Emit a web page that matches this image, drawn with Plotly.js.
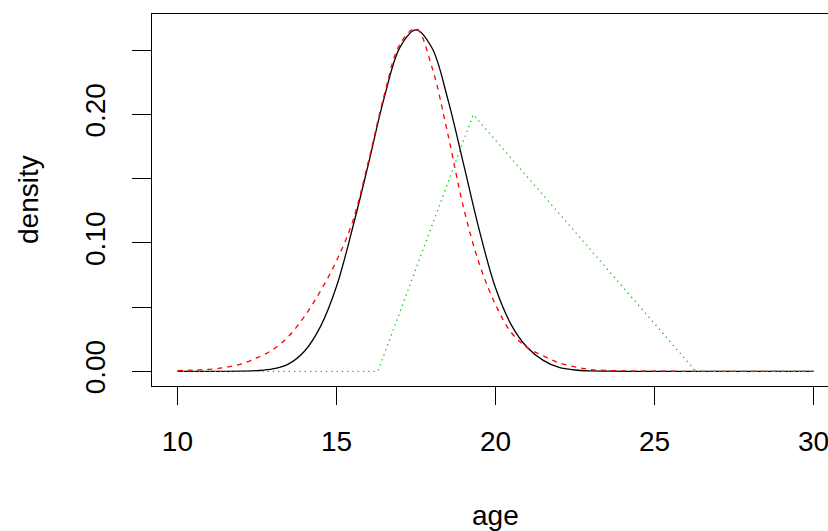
<!DOCTYPE html>
<html>
<head>
<meta charset="utf-8">
<script src="https://cdn.plot.ly/plotly-3.0.1.min.js"></script>
<style>
html, body { margin: 0; padding: 0; overflow: hidden; background: #fff; }
#chart { width: 845px; height: 531px; }
</style>
</head>
<body>
<div id="chart"></div>
<script>
// ages at which the curves were read
const ages = [10,10.5,11,11.5,12,12.5,13,13.5,14,14.5,15,15.5,16,16.5,17,17.5,18,18.5,19,19.5,20,20.5,21,21.5,22,22.5,23,23.5,24,25,26,27,28,29,30];
// solid black density
const densBlack = [0,0,0,0,0.0001,0.0005,0.0018,0.0058,0.0158,0.035,0.066,0.111,0.161,0.213,0.2525,0.2659,0.252,0.212,0.161,0.109,0.065,0.036,0.0185,0.0085,0.003,0.001,0.0003,0.0001,0,0,0,0,0,0,0];
// dashed red density
const densRed = [0.0005,0.0009,0.0015,0.003,0.0056,0.0105,0.0169,0.0274,0.043,0.0627,0.086,0.116,0.163,0.215,0.255,0.267,0.237,0.185,0.127,0.083,0.052,0.030,0.0185,0.012,0.0065,0.0035,0.0013,0.0007,0.0003,0.0001,0,0,0,0,0];
// dotted green triangular density
const greenAges = [10,16.3,19.3,26.3,30];
const densGreen = [0,0,0.2,0,0];
// tick labels
const xTicks = [10,15,20,25,30];
const xTickText = ['10','15','20','25','30'];
const yTicks = [0,0.05,0.10,0.15,0.20,0.25];
const yTickText = ['0.00','','0.10','','0.20',''];

const FONT = 'Liberation Sans, Arial, Helvetica, sans-serif';

const traces = [
  {x: ages, y: densBlack, type: 'scatter', mode: 'lines',
   line: {color: '#000000', width: 1.3, shape: 'spline', smoothing: 1}, hoverinfo: 'skip'},
  {x: ages, y: densRed, type: 'scatter', mode: 'lines',
   line: {color: '#FF0000', width: 1.3, dash: '5px,5px', shape: 'spline', smoothing: 1}, hoverinfo: 'skip'},
  {x: greenAges, y: densGreen, type: 'scatter', mode: 'lines',
   line: {color: '#00CD00', width: 1.3, dash: '1.3px,4px'}, hoverinfo: 'skip'}
];

const layout = {
  width: 845, height: 531,
  margin: {l: 152, r: 6.3, t: 14, b: 145.3, pad: 0},
  paper_bgcolor: '#ffffff', plot_bgcolor: '#ffffff',
  showlegend: false,
  font: {family: FONT, size: 28, color: '#000000'},
  xaxis: {
    range: [9.2, 30.8], tickvals: xTicks, ticktext: xTickText,
    ticks: 'outside', ticklen: 18, tickwidth: 1, tickcolor: '#000',
    showline: true, linecolor: '#000', linewidth: 1, mirror: true,
    showgrid: false, zeroline: false, ticklabelstandoff: 12,
    tickfont: {family: FONT, size: 28, color: '#000'}
  },
  yaxis: {
    range: [-0.01146, 0.2783], tickvals: yTicks, ticktext: yTickText,
    ticks: 'outside', ticklen: 19, tickwidth: 1, tickcolor: '#000',
    showline: true, linecolor: '#000', linewidth: 1, mirror: true,
    showgrid: false, zeroline: false, tickangle: -90, ticklabelstandoff: 16,
    tickfont: {family: FONT, size: 28, color: '#000'}
  },
  annotations: [
    {text: 'age', xref: 'x', yref: 'paper', x: 20, y: 0, xanchor: 'center', yanchor: 'middle',
     yshift: -129, showarrow: false, font: {family: FONT, size: 28, color: '#000'}},
    {text: 'density', xref: 'paper', yref: 'paper', x: 0, y: 0.5, xanchor: 'center', yanchor: 'middle',
     xshift: -124, textangle: -90, showarrow: false, font: {family: FONT, size: 28, color: '#000'}}
  ]
};

Plotly.newPlot('chart', traces, layout, {staticPlot: true, displayModeBar: false});
</script>
</body>
</html>
